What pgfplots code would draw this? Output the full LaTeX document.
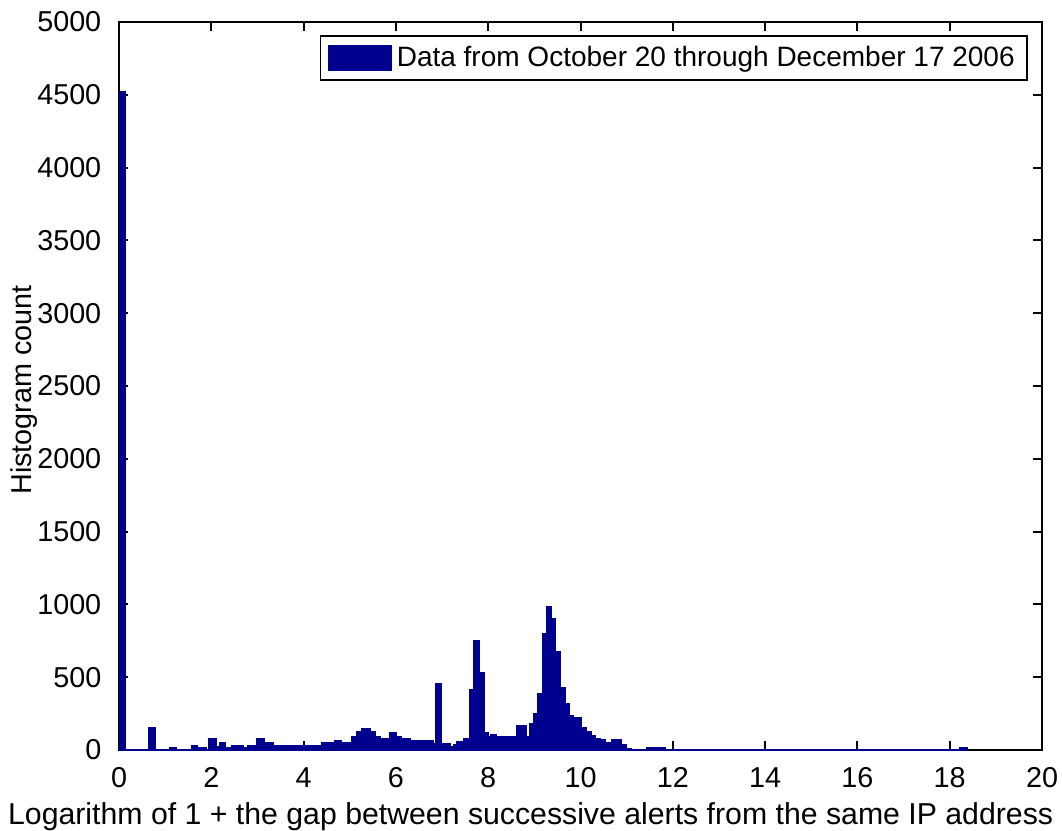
\documentclass[border=0pt]{standalone}
\usepackage{fontspec}
\setmainfont{Liberation Sans}
\usepackage{pgfplots}
\pgfplotsset{compat=1.18}
\definecolor{barcol}{HTML}{00008F}
\newcommand\ff{\fontsize{11.5pt}{13pt}\selectfont}
\newcommand\fl{\fontsize{12.1pt}{14pt}\selectfont}
\newcommand\fg{\fontsize{11.2pt}{13pt}\selectfont}

\begin{document}
\begin{tikzpicture}
\begin{axis}[
  name=ax,
  scale only axis,
  width=369.2pt, height=291.2pt,
  xmin=0, xmax=20, ymin=0, ymax=5000,
  xtick distance=2, ytick distance=500,
  tick align=inside,
  major tick length=3.6pt,
  axis line style={line width=0.8pt},
  every tick/.style={black, line width=0.8pt},
  /pgf/number format/assume math mode=true,
  /pgf/number format/set thousands separator={},
  scaled y ticks=false,
  ticklabel style={font=\ff},
  xticklabel style={inner sep=0pt, anchor=north, yshift=-6.7pt},
  yticklabel style={inner sep=0pt, anchor=east, xshift=-6.9pt},
  xlabel={Logarithm of 1 + the gap between successive alerts from the same IP address},
  ylabel={Histogram count},
  xlabel style={font=\fl, inner sep=0pt, at={(axis description cs:0.446,0)}, anchor=north, yshift=-20.8pt},
  ylabel style={font=\ff, inner sep=0pt, at={(axis description cs:-0.1029,0.4945)}, anchor=center},
  legend style={font=\fg, at={(axis description cs:0.9848,0.9821)}, anchor=north east,
    draw=black, line width=0.6pt, inner xsep=3pt, inner ysep=2pt},
  legend image code/.code={\fill[barcol] (2pt,-4.8pt) rectangle (27pt,4.8pt);},
]
\addplot[const plot, fill=barcol, draw=barcol, line width=0.6pt] coordinates {
  (0,4520) (0.13,0) (0.65,150) (0.78,0) (1.105,16) (1.235,0)
  (1.575,32) (1.697,16) (1.90,0) (1.95,75) (2.117,20) (2.188,50)
  (2.297,16) (2.442,32) (2.693,16) (2.795,32) (2.984,75) (3.142,50)
  (3.343,32) (3.597,20) (3.634,32) (4.175,16) (4.204,32) (4.392,50)
  (4.680,62) (4.825,50) (5.042,92) (5.150,126) (5.259,149) (5.439,126)
  (5.547,92) (5.655,75) (5.835,62) (5.872,121) (6.017,92) (6.126,75)
  (6.305,62) (6.451,62) (6.631,46) (6.667,62) (6.810,46) (6.862,458)
  (6.992,46) (7.172,23) (7.244,39) (7.317,57) (7.460,76) (7.590,412)
  (7.692,750) (7.811,530) (7.909,120) (8.002,92) (8.054,105) (8.184,92)
  (8.241,92) (8.618,165) (8.826,92) (8.895,180) (8.982,252) (9.075,384)
  (9.177,800) (9.259,984) (9.376,900) (9.463,675) (9.571,426) (9.664,321)
  (9.757,236) (9.844,220) (10.02,150) (10.13,128) (10.23,100) (10.325,80)
  (10.433,69) (10.531,53) (10.676,69) (10.893,39) (11.001,12) (11.109,0)
  (11.434,18) (11.831,0) (18.223,18) (18.375,0)
} \closedcycle;
\addlegendentry{Data from October 20 through December 17 2006}
\end{axis}
\path ([xshift=-47.6pt,yshift=-30.8pt]ax.south west) rectangle ([xshift=8pt,yshift=8.8pt]ax.north east);
\end{tikzpicture}
\end{document}
